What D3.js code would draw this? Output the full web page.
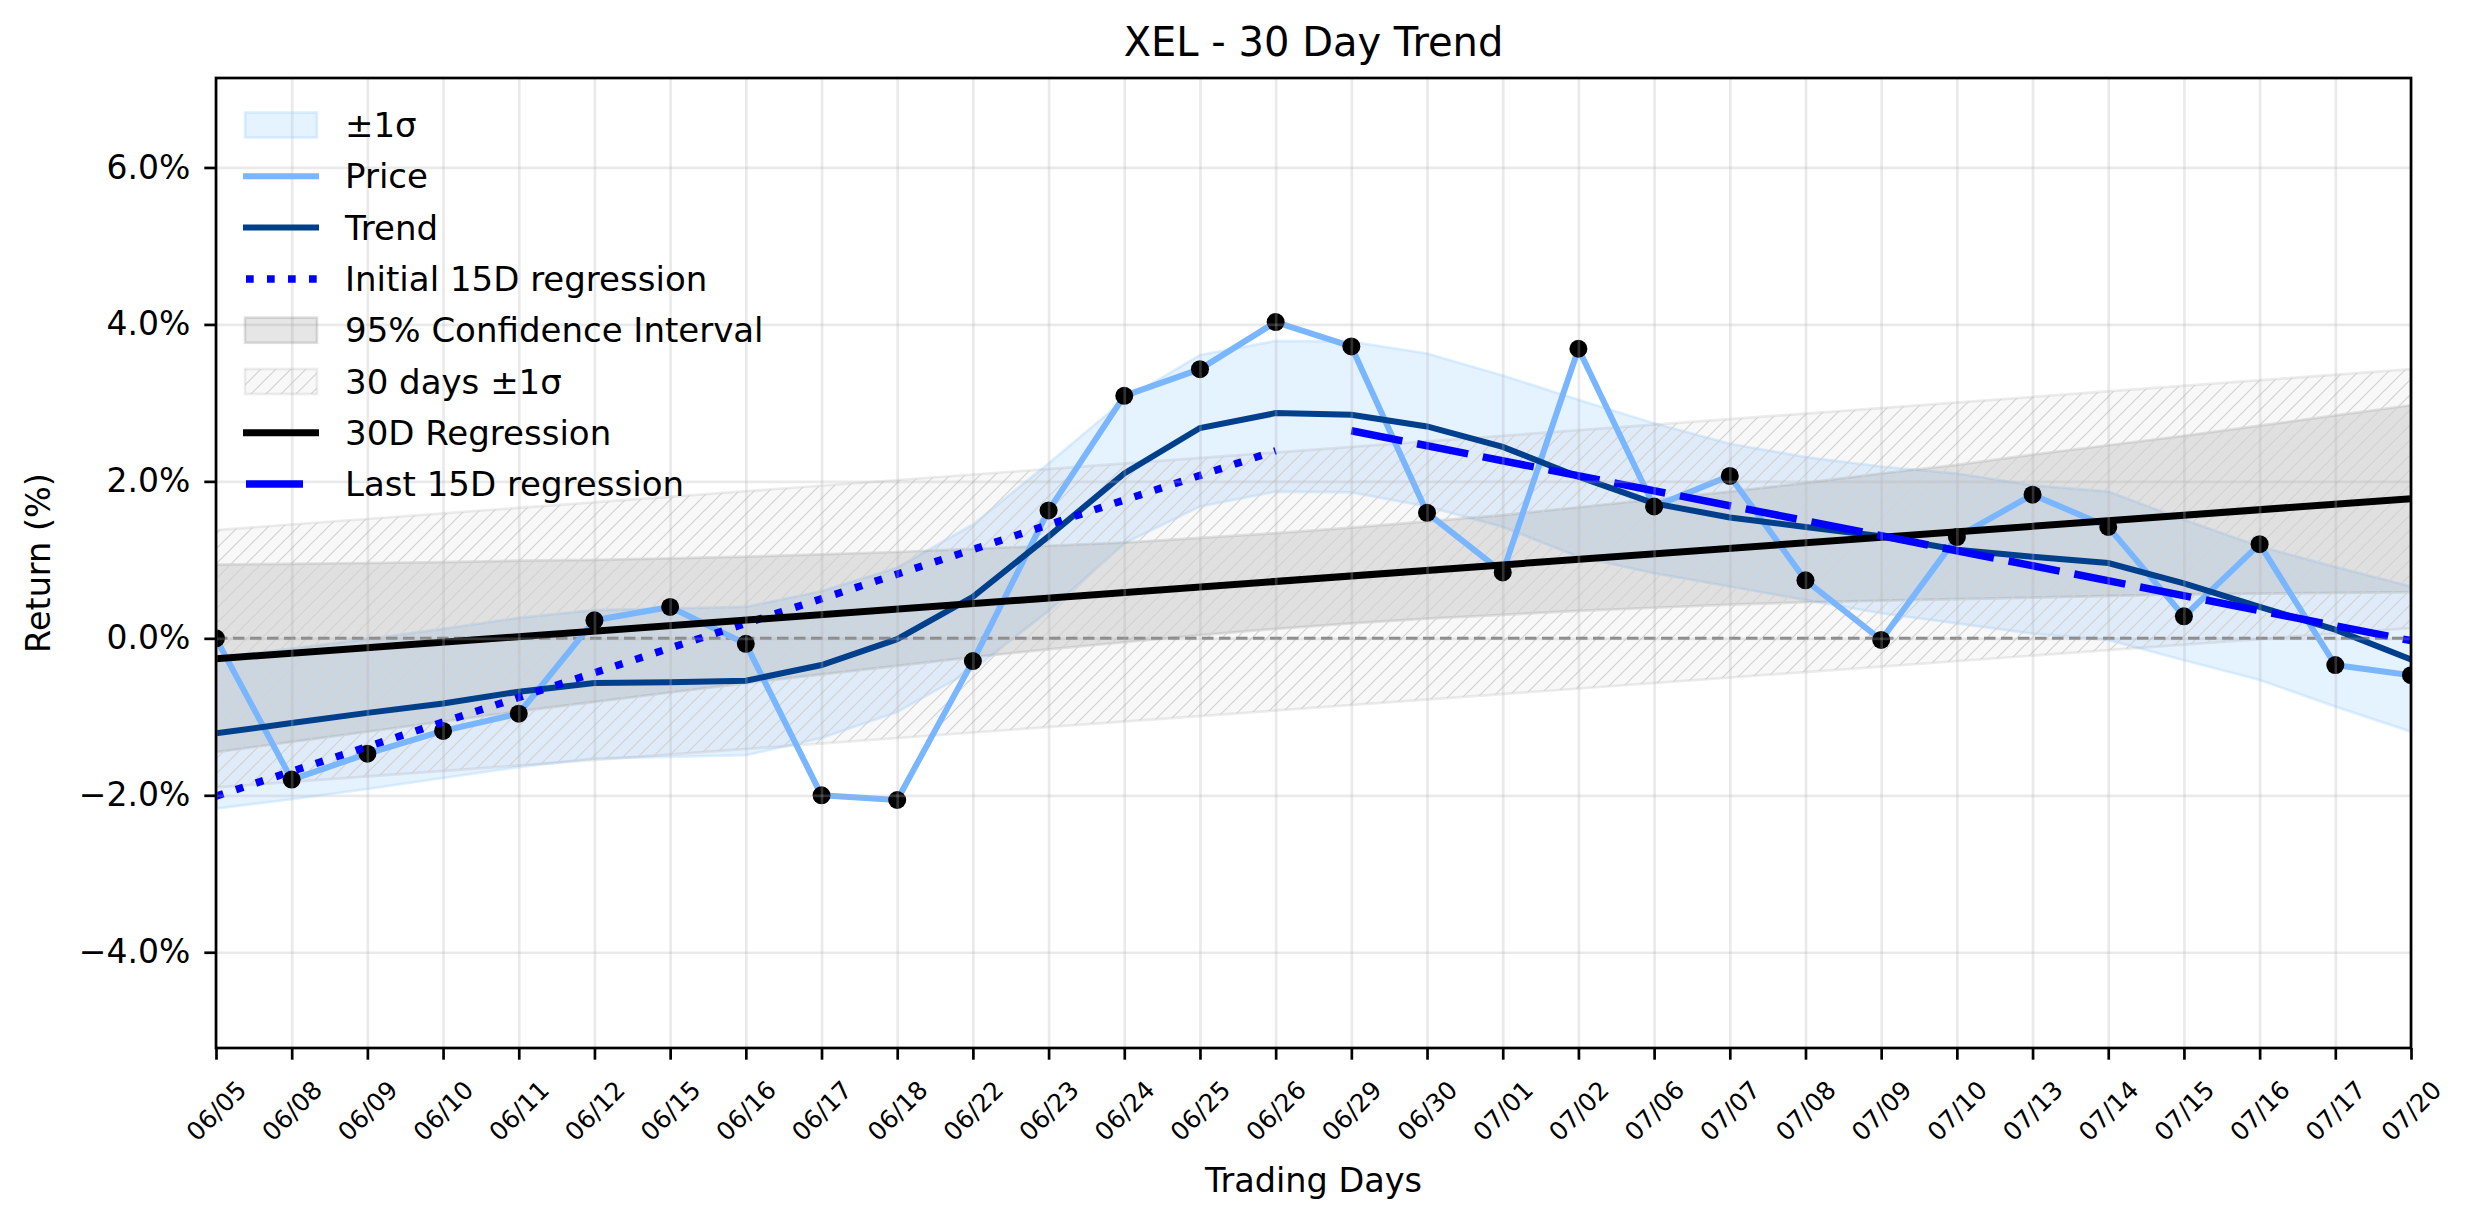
<!DOCTYPE html>
<html>
<head>
<meta charset="utf-8">
<title>XEL - 30 Day Trend</title>
<script src="https://cdnjs.cloudflare.com/ajax/libs/d3/7.8.5/d3.min.js"></script>
<style>
    body { margin: 0; background: #ffffff; }
    svg text { font-family: "DejaVu Sans", sans-serif; fill: #000000; }
</style>
</head>
<body>
<svg id="trendChart" width="2474" height="1224"></svg>
<script>
// trading days on the x axis
var tradingDays = ["06/05", "06/08", "06/09", "06/10", "06/11", "06/12", "06/15", "06/16", "06/17", "06/18",
    "06/22", "06/23", "06/24", "06/25", "06/26", "06/29", "06/30", "07/01", "07/02", "07/06",
    "07/07", "07/08", "07/09", "07/10", "07/13", "07/14", "07/15", "07/16", "07/17", "07/20"];

// cumulative return (%) of the price
var priceReturn = [0.00, -1.80, -1.47, -1.18, -0.96, 0.23, 0.40, -0.07, -2.00, -2.06,
    -0.29, 1.63, 3.09, 3.43, 4.03, 3.72, 1.60, 0.84, 3.69, 1.68,
    2.07, 0.74, -0.02, 1.29, 1.83, 1.42, 0.28, 1.20, -0.34, -0.47];

// smoothed trend (%)
var trendReturn = [-1.21, -1.08, -0.95, -0.83, -0.68, -0.57, -0.56, -0.54, -0.34, -0.01,
    0.53, 1.30, 2.10, 2.68, 2.87, 2.85, 2.70, 2.44, 2.06, 1.72,
    1.54, 1.42, 1.30, 1.13, 1.04, 0.96, 0.70, 0.40, 0.11, -0.27];

// +/- 1 sigma band around the trend
var sigmaUpper = [-0.25, -0.13, -0.01, 0.12, 0.26, 0.36, 0.38, 0.40, 0.60, 0.90,
    1.45, 2.23, 3.04, 3.61, 3.79, 3.78, 3.63, 3.35, 3.04, 2.74,
    2.48, 2.31, 2.19, 2.10, 1.95, 1.87, 1.51, 1.17, 0.91, 0.66];
var sigmaLower = [-2.17, -2.05, -1.92, -1.78, -1.64, -1.53, -1.51, -1.49, -1.27, -0.94,
    -0.40, 0.35, 1.21, 1.68, 1.87, 1.86, 1.68, 1.42, 1.04, 0.83,
    0.66, 0.49, 0.32, 0.19, 0.06, -0.02, -0.28, -0.53, -0.87, -1.19];

// 95% confidence interval of the 30D regression
var ciUpper = [0.94, 0.95, 0.96, 0.97, 0.99, 1.00, 1.02, 1.04, 1.07, 1.10,
    1.14, 1.18, 1.22, 1.28, 1.34, 1.41, 1.49, 1.57, 1.67, 1.77,
    1.87, 1.98, 2.10, 2.21, 2.34, 2.46, 2.58, 2.71, 2.84, 2.97];
var ciLower = [-1.45, -1.32, -1.19, -1.06, -0.93, -0.81, -0.69, -0.57, -0.46, -0.35,
    -0.24, -0.14, -0.05, 0.04, 0.12, 0.19, 0.25, 0.30, 0.35, 0.39,
    0.43, 0.46, 0.48, 0.50, 0.52, 0.54, 0.56, 0.57, 0.58, 0.59];

// straight lines: day index -> value
var reg30Days = [0, 29];
var reg30Values = [-0.26, 1.78];
var band30Upper = [1.38, 3.43];
var band30Lower = [-1.90, 0.13];
var regFirstDays = [0, 14];
var regFirstValues = [-2.01, 2.39];
var regLastDays = [15, 29];
var regLastValues = [2.645, -0.03];

var yTicks = [-4, -2, 0, 2, 4, 6];
var yDomain = [-5.22, 7.14];

var legendLabels = ["\u00b11\u03c3", "Price", "Trend", "Initial 15D regression", "95% Confidence Interval",
    "30 days \u00b11\u03c3", "30D Regression", "Last 15D regression"];

/**
 * Draws the 30 day trend chart
 */
function drawTrendChart()
{
    var svg = d3.select("#trendChart");
    var plot = {left: 216, right: 2411, top: 78, bottom: 1048};

    var x = d3.scaleLinear()
            .domain([0, tradingDays.length - 1])
            .range([plot.left, plot.right]);
    var y = d3.scaleLinear()
            .domain(yDomain)
            .range([plot.bottom, plot.top]);

    var defs = svg.append("defs");
    defs.append("clipPath").attr("id", "plotClip")
            .append("rect")
            .attr("x", plot.left).attr("y", plot.top)
            .attr("width", plot.right - plot.left).attr("height", plot.bottom - plot.top);

    var hatch = defs.append("pattern")
            .attr("id", "hatch")
            .attr("patternUnits", "userSpaceOnUse")
            .attr("width", 15).attr("height", 15);
    hatch.append("path")
            .attr("d", "M0,15L15,0M-3.75,3.75L3.75,-3.75M11.25,18.75L18.75,11.25")
            .style("stroke", "#d2d2d2")
            .style("stroke-width", "1.2px");

    var area = svg.append("g").attr("clip-path", "url(#plotClip)");

    // +/- 1 sigma band
    area.append("path")
            .datum(d3.range(tradingDays.length))
            .attr("d", d3.area()
                    .x(function(i) { return x(i); })
                    .y0(function(i) { return y(sigmaLower[i]); })
                    .y1(function(i) { return y(sigmaUpper[i]); }))
            .style("fill", "#99ccff").style("fill-opacity", 0.25)
            .style("stroke", "#99ccff").style("stroke-opacity", 0.3)
            .style("stroke-width", "2.7px");

    // 95% confidence interval
    area.append("path")
            .datum(d3.range(tradingDays.length))
            .attr("d", d3.area()
                    .x(function(i) { return x(i); })
                    .y0(function(i) { return y(ciLower[i]); })
                    .y1(function(i) { return y(ciUpper[i]); }))
            .style("fill", "#808080").style("fill-opacity", 0.2)
            .style("stroke", "#808080").style("stroke-opacity", 0.2)
            .style("stroke-width", "2.7px");

    // 30 days +/- 1 sigma (hatched)
    var bandArea = d3.area()
            .x(function(i) { return x(reg30Days[i]); })
            .y0(function(i) { return y(band30Lower[i]); })
            .y1(function(i) { return y(band30Upper[i]); });
    area.append("path")
            .datum(d3.range(reg30Days.length))
            .attr("d", bandArea)
            .style("fill", "#808080").style("fill-opacity", 0.06)
            .style("stroke", "#808080").style("stroke-opacity", 0.14)
            .style("stroke-width", "2.7px");
    area.append("path")
            .datum(d3.range(reg30Days.length))
            .attr("d", bandArea)
            .style("fill", "url(#hatch)");

    // grid
    svg.append("g")
            .attr("transform", "translate(0," + plot.bottom + ")")
            .call(d3.axisBottom(x).tickValues(d3.range(tradingDays.length))
                    .tickSize(-(plot.bottom - plot.top)).tickFormat(""))
            .call(styleGrid);
    svg.append("g")
            .attr("transform", "translate(" + plot.left + ",0)")
            .call(d3.axisLeft(y).tickValues(yTicks)
                    .tickSize(-(plot.right - plot.left)).tickFormat(""))
            .call(styleGrid);

    function styleGrid(g) {
        g.select(".domain").remove();
        g.selectAll("line")
                .style("stroke", "#b0b0b0")
                .style("stroke-opacity", 0.27)
                .style("stroke-width", "2.7px");
    }

    // zero line
    area.append("line")
            .attr("x1", plot.left).attr("x2", plot.right)
            .attr("y1", y(0)).attr("y2", y(0))
            .style("stroke", "#858585")
            .style("stroke-width", "3px")
            .style("stroke-dasharray", "11.5,5.5");

    var dayLine = d3.line()
            .x(function(d, i) { return x(i); })
            .y(function(d) { return y(d); });

    area.append("path")
            .datum(priceReturn)
            .attr("d", dayLine)
            .style("fill", "none")
            .style("stroke", "#79b6ff")
            .style("stroke-width", "6px")
            .style("stroke-linejoin", "round");

    area.append("path")
            .datum(trendReturn)
            .attr("d", dayLine)
            .style("fill", "none")
            .style("stroke", "#003f8c")
            .style("stroke-width", "6px");

    area.selectAll("circle.price")
            .data(priceReturn)
            .enter().append("circle")
            .attr("class", "price")
            .attr("cx", function(d, i) { return x(i); })
            .attr("cy", function(d) { return y(d); })
            .attr("r", 9)
            .style("fill", "#000000");

    /**
     * Draws a straight regression line through given days
     */
    function regressionLine(days, values, color, width, dash) {
        area.append("path")
                .datum(d3.range(days.length))
                .attr("d", d3.line()
                        .x(function(i) { return x(days[i]); })
                        .y(function(i) { return y(values[i]); }))
                .style("fill", "none")
                .style("stroke", color)
                .style("stroke-width", width)
                .style("stroke-dasharray", dash);
    }

    regressionLine(regFirstDays, regFirstValues, "#0000ff", "7.5px", "7.7,13.3");
    regressionLine(reg30Days, reg30Values, "#000000", "7px", null);
    regressionLine(regLastDays, regLastValues, "#0000ff", "7.5px", "52,15");

    // axes
    var yAxis = svg.append("g")
            .attr("transform", "translate(" + plot.left + ",0)")
            .call(d3.axisLeft(y).tickValues(yTicks).tickSize(11.7).tickPadding(14)
                    .tickFormat(function(d) {
                        return (d < 0 ? "\u2212" : "") + Math.abs(d).toFixed(1) + "%";
                    }));
    yAxis.select(".domain").remove();
    yAxis.selectAll("line").style("stroke", "#000").style("stroke-width", "2.7px");
    yAxis.selectAll("text").attr("font-size", 33).attr("font-family", "DejaVu Sans");

    var xAxis = svg.append("g")
            .attr("transform", "translate(0," + plot.bottom + ")")
            .call(d3.axisBottom(x).tickValues(d3.range(tradingDays.length)).tickSize(11.7)
                    .tickFormat(function(i) { return tradingDays[i]; }));
    xAxis.select(".domain").remove();
    xAxis.selectAll("line").style("stroke", "#000").style("stroke-width", "2.7px");
    xAxis.selectAll("text")
            .attr("y", 0).attr("dy", null)
            .attr("font-size", 25).attr("font-family", "DejaVu Sans")
            .attr("text-anchor", "middle")
            .attr("dominant-baseline", "central")
            .attr("transform", "translate(0,63) rotate(-45)");

    svg.append("rect")
            .attr("x", plot.left).attr("y", plot.top)
            .attr("width", plot.right - plot.left).attr("height", plot.bottom - plot.top)
            .style("fill", "none")
            .style("stroke", "#000")
            .style("stroke-width", "2.7px");

    // titles
    svg.append("text")
            .attr("x", (plot.left + plot.right) / 2).attr("y", 56)
            .attr("text-anchor", "middle")
            .attr("font-size", 40)
            .text("XEL - 30 Day Trend");
    svg.append("text")
            .attr("x", (plot.left + plot.right) / 2).attr("y", 1192)
            .attr("text-anchor", "middle")
            .attr("font-size", 33.5)
            .text("Trading Days");
    svg.append("text")
            .attr("transform", "translate(50," + ((plot.top + plot.bottom) / 2) + ") rotate(-90)")
            .attr("text-anchor", "middle")
            .attr("font-size", 33.5)
            .text("Return (%)");

    drawLegend(svg);
}

/**
 * Draws the legend in the upper left corner, without a frame
 */
function drawLegend(svg)
{
    var handles = [
        {kind: "patch", fill: "#99ccff", op: 0.25},
        {kind: "line", color: "#79b6ff", width: 6},
        {kind: "line", color: "#003f8c", width: 6},
        {kind: "line", color: "#0000ff", width: 7.5, dash: "7.7,13.3", x0: 246},
        {kind: "patch", fill: "#808080", op: 0.2},
        {kind: "hatch"},
        {kind: "line", color: "#000000", width: 7},
        {kind: "line", color: "#0000ff", width: 7.5, x0: 246, x1: 303}
    ];
    var legend = svg.append("g");

    legendLabels.forEach(function(label, i) {
        var cy = 125 + i * 51.3;
        var h = handles[i];
        if (h.kind === "line") {
            legend.append("line")
                    .attr("x1", h.x0 || 243).attr("x2", h.x1 || 319)
                    .attr("y1", cy).attr("y2", cy)
                    .style("stroke", h.color)
                    .style("stroke-width", h.width + "px")
                    .style("stroke-dasharray", h.dash || null);
        } else if (h.kind === "patch") {
            legend.append("rect")
                    .attr("x", 245).attr("y", cy - 12.5)
                    .attr("width", 72).attr("height", 25)
                    .style("fill", h.fill).style("fill-opacity", h.op)
                    .style("stroke", h.fill).style("stroke-opacity", h.op + 0.05)
                    .style("stroke-width", "2.7px");
        } else {
            legend.append("rect")
                    .attr("x", 245).attr("y", cy - 12.5)
                    .attr("width", 72).attr("height", 25)
                    .style("fill", "#808080").style("fill-opacity", 0.06)
                    .style("stroke", "#808080").style("stroke-opacity", 0.14)
                    .style("stroke-width", "2.7px");
            legend.append("rect")
                    .attr("x", 245).attr("y", cy - 12.5)
                    .attr("width", 72).attr("height", 25)
                    .style("fill", "url(#hatch)");
        }
        legend.append("text")
                .attr("x", 345).attr("y", cy)
                .attr("dominant-baseline", "central")
                .attr("font-size", 34)
                .text(label);
    });
}

drawTrendChart();
</script>
</body>
</html>
